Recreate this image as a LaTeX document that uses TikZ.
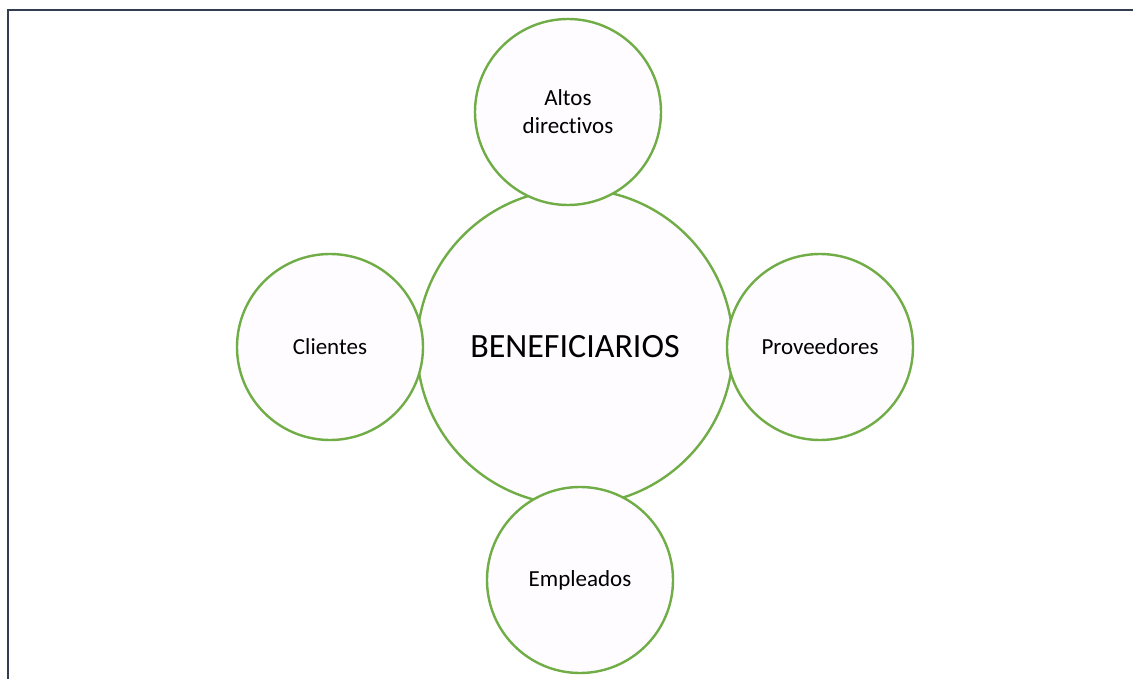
\documentclass[tikz,border=0pt]{standalone}
\usepackage{fontspec}
\setmainfont[Ligatures=NoCommon]{Carlito}
\definecolor{ringgreen}{HTML}{70AD47}
\definecolor{ringfill}{HTML}{FEFCFE}
\definecolor{frame}{HTML}{333D52}
\begin{document}
\begin{tikzpicture}[x=1pt,y=-1pt,
  ring/.style={circle, draw=ringgreen, fill=ringfill, line width=2.4pt, inner sep=0pt, align=center},
  hub/.style={ring, minimum size=316pt, font=\fontsize{34}{40}\selectfont},
  sat/.style={ring, minimum size=186pt, font=\fontsize{23}{28}\selectfont}]
\useasboundingbox (0,0) rectangle (1133,679);
\fill[white] (0,0) rectangle (1133,679);
\draw[frame, line width=2.2pt] (8,679) -- (8,10) -- (1133,10);
\node[hub] (center) at (575,347) {BENEFICIARIOS};
\node[sat] (top) at (568,112) {Altos\\directivos};
\node[sat] (left) at (330,347) {Clientes};
\node[sat] (right) at (820,347) {Proveedores};
\node[sat] (bottom) at (580,580) {Empleados};
\end{tikzpicture}
\end{document}
